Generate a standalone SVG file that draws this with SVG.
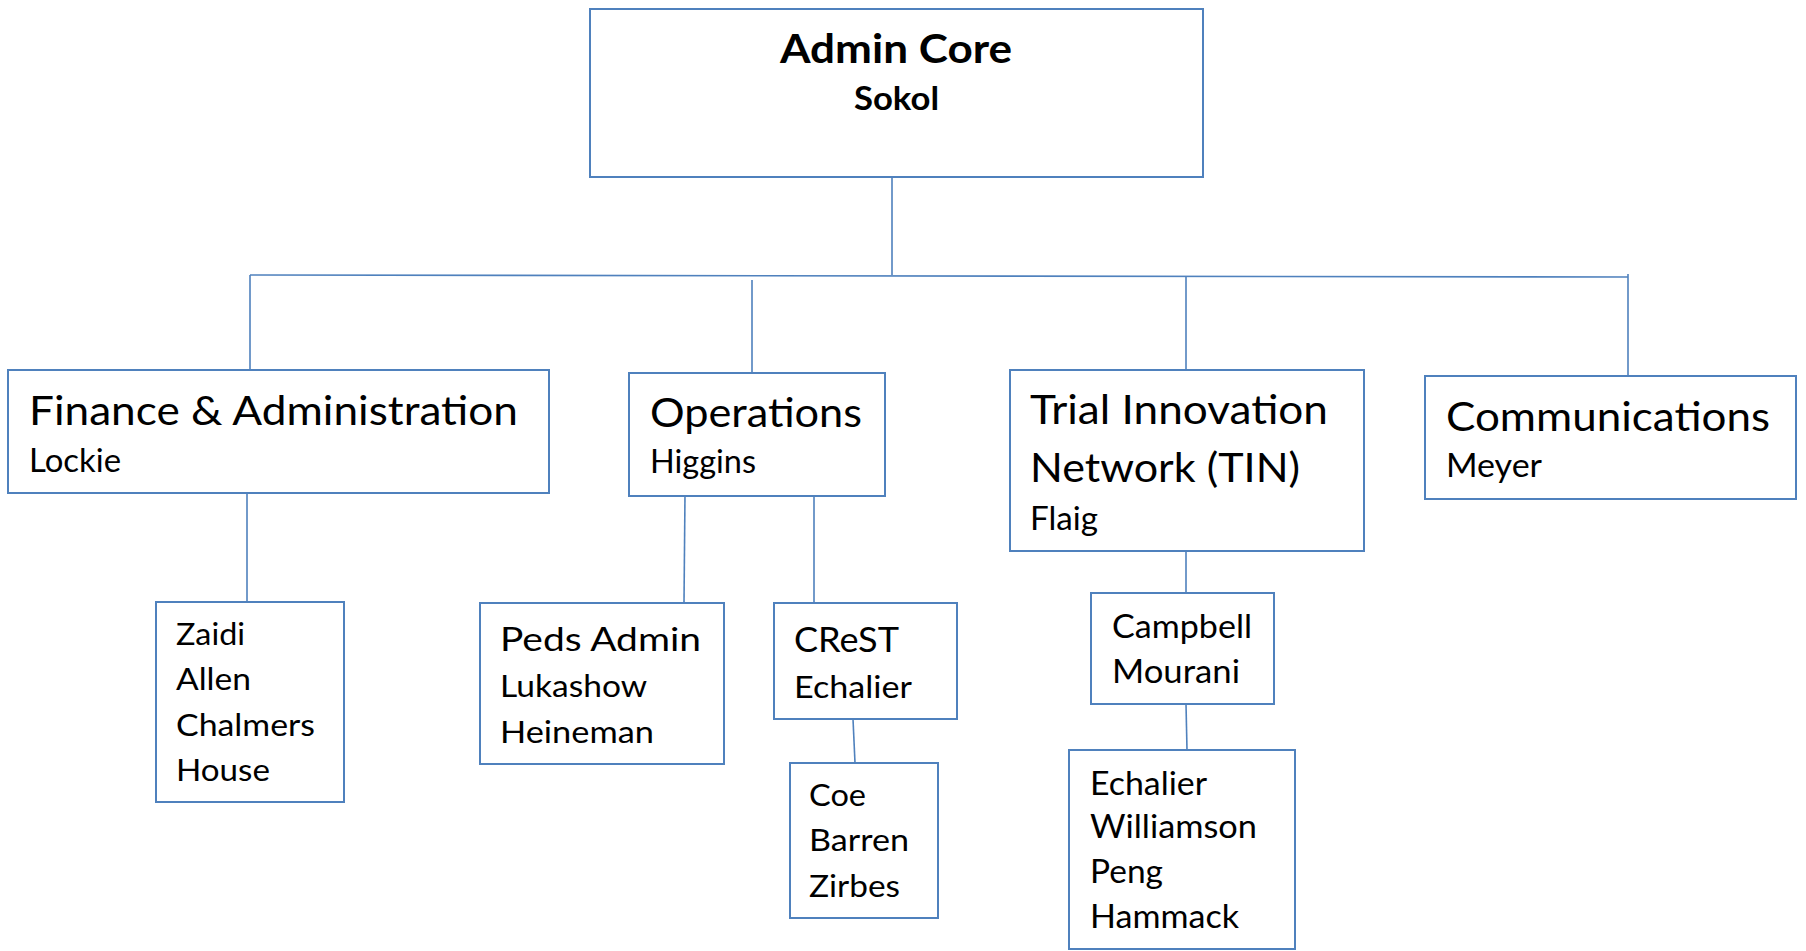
<svg xmlns="http://www.w3.org/2000/svg" width="1806" height="951" viewBox="0 0 1806 951">
<style>
.box{fill:#fff;stroke:#4F81BD;stroke-width:2}
.ln{stroke:#4F81BD;stroke-width:1.6;fill:none}
text{font-family:Lato,"Open Sans","Liberation Sans",sans-serif;fill:#000}
.b{font-weight:bold}
.t1{font-size:41px}
.t2{font-size:33px}
.t3{font-size:30px}
</style>
<rect width="1806" height="951" fill="#fff"/>
<g id="connectors">
<line class="ln" x1="892" y1="177" x2="892" y2="275"/>
<line class="ln" x1="250" y1="275" x2="1628" y2="277"/>
<line class="ln" x1="250" y1="275" x2="250" y2="370"/>
<line class="ln" x1="752" y1="280" x2="752" y2="373"/>
<line class="ln" x1="1186" y1="277" x2="1186" y2="370"/>
<line class="ln" x1="1628" y1="274" x2="1628" y2="376"/>
<line class="ln" x1="247" y1="493" x2="247" y2="602"/>
<line class="ln" x1="685" y1="494" x2="684" y2="603"/>
<line class="ln" x1="814" y1="494" x2="814" y2="603"/>
<line class="ln" x1="853" y1="719" x2="855" y2="763"/>
<line class="ln" x1="1186" y1="551" x2="1186" y2="593"/>
<line class="ln" x1="1186" y1="704" x2="1187" y2="750"/>
</g>
<g id="admin-core">
<rect class="box" x="590" y="9" width="613" height="168"/>
<text class="b" x="780" y="63" font-size="41" textLength="232" lengthAdjust="spacingAndGlyphs">Admin Core</text>
<text class="b" x="854" y="110" font-size="32" textLength="85" lengthAdjust="spacingAndGlyphs">Sokol</text>
</g>
<g id="finance">
<rect class="box" x="8" y="370" width="541" height="123"/>
<text class="t1" x="29" y="425" textLength="489" lengthAdjust="spacingAndGlyphs">Finance &amp; Administration</text>
<text class="t2" x="29" y="472" textLength="92" lengthAdjust="spacingAndGlyphs">Lockie</text>
</g>
<g id="operations">
<rect class="box" x="629" y="373" width="256" height="123"/>
<text class="t1" x="650" y="427" textLength="212" lengthAdjust="spacingAndGlyphs">Operations</text>
<text class="t2" x="650" y="473" textLength="106" lengthAdjust="spacingAndGlyphs">Higgins</text>
</g>
<g id="tin">
<rect class="box" x="1010" y="370" width="354" height="181"/>
<text class="t1" x="1030" y="424" textLength="298" lengthAdjust="spacingAndGlyphs">Trial Innovation</text>
<text class="t1" x="1030" y="482" textLength="270" lengthAdjust="spacingAndGlyphs">Network (TIN)</text>
<text class="t2" x="1030" y="530" textLength="68" lengthAdjust="spacingAndGlyphs">Flaig</text>
</g>
<g id="communications">
<rect class="box" x="1425" y="376" width="371" height="123"/>
<text class="t1" x="1446" y="431" textLength="324" lengthAdjust="spacingAndGlyphs">Communications</text>
<text class="t2" x="1446" y="477" textLength="96" lengthAdjust="spacingAndGlyphs">Meyer</text>
</g>
<g id="finance-staff">
<rect class="box" x="156" y="602" width="188" height="200"/>
<text class="t3" x="176" y="645" textLength="69" lengthAdjust="spacingAndGlyphs">Zaidi</text>
<text class="t3" x="176" y="690" textLength="75" lengthAdjust="spacingAndGlyphs">Allen</text>
<text class="t3" x="176" y="736" textLength="139" lengthAdjust="spacingAndGlyphs">Chalmers</text>
<text class="t3" x="176" y="781" textLength="94" lengthAdjust="spacingAndGlyphs">House</text>
</g>
<g id="peds-admin">
<rect class="box" x="480" y="603" width="244" height="161"/>
<text class="t2" x="500" y="651" textLength="201" lengthAdjust="spacingAndGlyphs">Peds Admin</text>
<text class="t3" x="500" y="697" textLength="147" lengthAdjust="spacingAndGlyphs">Lukashow</text>
<text class="t3" x="500" y="743" textLength="154" lengthAdjust="spacingAndGlyphs">Heineman</text>
</g>
<g id="crest">
<rect class="box" x="774" y="603" width="183" height="116"/>
<text x="794" y="652" font-size="35" textLength="105" lengthAdjust="spacingAndGlyphs">CReST</text>
<text class="t3" x="794" y="698" textLength="118" lengthAdjust="spacingAndGlyphs">Echalier</text>
</g>
<g id="crest-staff">
<rect class="box" x="790" y="763" width="148" height="155"/>
<text class="t3" x="809" y="806" textLength="57" lengthAdjust="spacingAndGlyphs">Coe</text>
<text class="t3" x="809" y="851" textLength="100" lengthAdjust="spacingAndGlyphs">Barren</text>
<text class="t3" x="809" y="897" textLength="91" lengthAdjust="spacingAndGlyphs">Zirbes</text>
</g>
<g id="tin-leads">
<rect class="box" x="1091" y="593" width="183" height="111"/>
<text x="1112" y="638" font-size="32" textLength="140" lengthAdjust="spacingAndGlyphs">Campbell</text>
<text x="1112" y="683" font-size="32" textLength="128" lengthAdjust="spacingAndGlyphs">Mourani</text>
</g>
<g id="tin-staff">
<rect class="box" x="1069" y="750" width="226" height="199"/>
<text x="1090" y="795" font-size="32" textLength="117" lengthAdjust="spacingAndGlyphs">Echalier</text>
<text x="1090" y="838" font-size="32" textLength="167" lengthAdjust="spacingAndGlyphs">Williamson</text>
<text x="1090" y="883" font-size="32" textLength="73" lengthAdjust="spacingAndGlyphs">Peng</text>
<text x="1090" y="928" font-size="32" textLength="149" lengthAdjust="spacingAndGlyphs">Hammack</text>
</g>
</svg>
